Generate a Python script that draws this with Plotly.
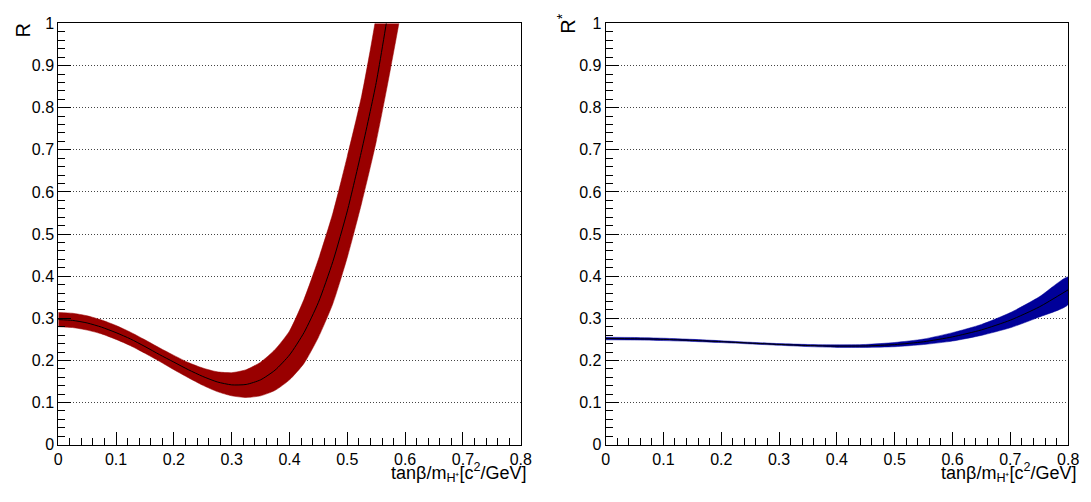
import plotly.graph_objects as go

# ---- data ----
x_left = [0.0, 0.025, 0.05, 0.075, 0.1, 0.125, 0.15, 0.175, 0.2, 0.225, 0.25, 0.275,
          0.3, 0.325, 0.35, 0.375, 0.4, 0.425, 0.45, 0.475, 0.5, 0.525, 0.55, 0.575, 0.6]
r_central = [0.297, 0.295, 0.289, 0.279, 0.266, 0.251, 0.233, 0.214, 0.196, 0.178, 0.162, 0.149,
             0.142, 0.143, 0.154, 0.177, 0.213, 0.266, 0.338, 0.435, 0.555, 0.700, 0.860, 1.066, 1.31]
r_upper = [0.314, 0.312, 0.306, 0.296, 0.283, 0.267, 0.249, 0.230, 0.212, 0.195, 0.182, 0.173,
           0.171, 0.178, 0.196, 0.226, 0.270, 0.345, 0.440, 0.550, 0.685, 0.830, 1.020, 1.300, 1.600]
r_lower = [0.280, 0.278, 0.272, 0.263, 0.250, 0.235, 0.217, 0.198, 0.178, 0.159, 0.141, 0.126,
           0.116, 0.112, 0.116, 0.129, 0.154, 0.193, 0.255, 0.335, 0.445, 0.575, 0.720, 0.895, 1.100]

x_right = [0.0, 0.05, 0.1, 0.15, 0.2, 0.25, 0.3, 0.35, 0.4, 0.45, 0.5, 0.55, 0.6, 0.65, 0.7, 0.75, 0.8]
rs_central = [0.252, 0.2515, 0.2500, 0.2476, 0.2446, 0.2412, 0.2380, 0.2354, 0.2340, 0.2345,
              0.2376, 0.2443, 0.2560, 0.2725, 0.2956, 0.3270, 0.3677]
rs_upper = [0.255, 0.2545, 0.2528, 0.2501, 0.2468, 0.2432, 0.2400, 0.2379, 0.2370, 0.2380,
            0.2426, 0.2508, 0.2660, 0.2855, 0.3136, 0.3510, 0.3980]
rs_lower = [0.249, 0.2485, 0.2472, 0.2451, 0.2424, 0.2392, 0.2360, 0.2329, 0.2310, 0.2310,
            0.2326, 0.2378, 0.2460, 0.2595, 0.2776, 0.3030, 0.3330]

x_ticks = [0, 0.1, 0.2, 0.3, 0.4, 0.5, 0.6, 0.7, 0.8]
x_ticklabels = ["0", "0.1", "0.2", "0.3", "0.4", "0.5", "0.6", "0.7", "0.8"]
y_ticks = [0, 0.1, 0.2, 0.3, 0.4, 0.5, 0.6, 0.7, 0.8, 0.9, 1]
y_ticklabels = ["0", "0.1", "0.2", "0.3", "0.4", "0.5", "0.6", "0.7", "0.8", "0.9", "1"]

RED = "#990000"
BLUE = "#000099"
FONT = "Liberation Sans, Arial, Helvetica, sans-serif"

fig = go.Figure()


def add_band(xs, up, lo, mid, color, xa, ya):
    fig.add_trace(go.Scatter(
        x=list(xs) + list(xs)[::-1], y=list(up) + list(lo)[::-1],
        fill="toself", fillcolor=color, mode="lines",
        line=dict(color=color, width=0.5, shape="spline", smoothing=0.6),
        xaxis=xa, yaxis=ya, hoverinfo="skip", showlegend=False))
    fig.add_trace(go.Scatter(
        x=xs, y=mid, mode="lines",
        line=dict(color="black", width=1, shape="spline", smoothing=0.6),
        xaxis=xa, yaxis=ya, showlegend=False))


add_band(x_left, r_upper, r_lower, r_central, RED, "x", "y")
add_band(x_right, rs_upper, rs_lower, rs_central, BLUE, "x2", "y2")

W, H = 1091, 502
xdom1 = [55 / W, 524 / W]
xdom2 = [610 / W, 1079 / W]
ydom = [50 / H, 486 / H]

common_x = dict(range=[0, 0.8], tickvals=x_ticks, ticktext=x_ticklabels,
                ticks="inside", ticklen=13, tickcolor="black", tickwidth=1,
                minor=dict(dtick=0.02, tick0=0, ticks="inside", ticklen=7,
                           tickcolor="black", tickwidth=1, showgrid=False),
                showgrid=False, zeroline=False, showline=True, linecolor="black",
                linewidth=1, mirror=True,
                tickfont=dict(family=FONT, size=16, color="black"))
common_y = dict(range=[0, 1], tickvals=y_ticks, ticktext=y_ticklabels,
                ticks="inside", ticklen=13, tickcolor="black", tickwidth=1,
                minor=dict(dtick=0.02, tick0=0, ticks="inside", ticklen=7,
                           tickcolor="black", tickwidth=1, showgrid=False),
                showgrid=True, gridcolor="#444444", griddash="1px,2px", gridwidth=1,
                zeroline=False, showline=True, linecolor="black",
                linewidth=1, mirror=True,
                tickfont=dict(family=FONT, size=16, color="black"))

fig.update_layout(
    width=W, height=H, autosize=False,
    margin=dict(l=0, r=0, t=0, b=0),
    paper_bgcolor="white", plot_bgcolor="white",
    xaxis=dict(domain=xdom1, anchor="y", **common_x),
    yaxis=dict(domain=ydom, anchor="x", **common_y),
    xaxis2=dict(domain=xdom2, anchor="y2", **common_x),
    yaxis2=dict(domain=ydom, anchor="x2", **common_y),
    font=dict(family=FONT, color="black"),
)

xlabel = "tanβ/m<sub>H⁺</sub>[c<sup>2</sup>/GeV]"
fig.add_annotation(text=xlabel, xref="paper", yref="paper", x=532 / W, y=1 - 466 / H,
                   xanchor="right", yanchor="top", showarrow=False,
                   font=dict(family=FONT, size=18, color="black"))
fig.add_annotation(text=xlabel, xref="paper", yref="paper", x=1090 / W, y=1 - 466 / H,
                   xanchor="right", yanchor="top", showarrow=False,
                   font=dict(family=FONT, size=18, color="black"))
fig.add_annotation(text="R", xref="paper", yref="paper", x=6 / W, y=1 - 14 / H,
                   xanchor="left", yanchor="top", textangle=-90, showarrow=False,
                   font=dict(family=FONT, size=20, color="black"))
fig.add_annotation(text="R<sup>*</sup>", xref="paper", yref="paper", x=556 / W, y=1 - 4 / H,
                   xanchor="left", yanchor="top", textangle=-90, showarrow=False,
                   font=dict(family=FONT, size=20, color="black"))

fig.write_html("out.html")
